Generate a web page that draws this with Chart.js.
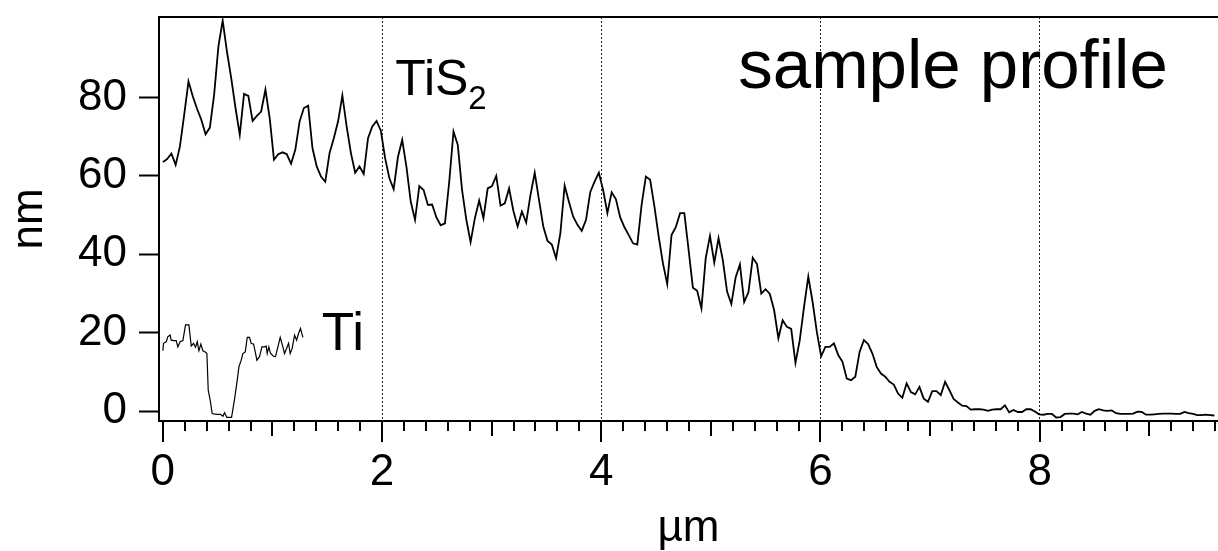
<!DOCTYPE html>
<html>
<head>
<meta charset="utf-8">
<script src="https://cdn.jsdelivr.net/npm/chart.js@4.4.1/dist/chart.umd.min.js"></script>
<style>
  html, body { margin: 0; padding: 0; background: #fff; }
  canvas { display: block; }
</style>
</head>
<body>
<canvas id="chart" width="1218" height="551"></canvas>
<script>
// profile sampling step along the scan, in µm
const STEP = 0.039;

// TiS2 flake height, nm (one value per sample)
const tis2Height = [
  63.5, 64.3, 65.7, 62.8, 67.5, 75.6, 84.1, 80.3, 77.1, 74.3,
  70.6, 72.3, 80.7, 93.0, 99.6, 91.7, 84.9, 77.3, 70.5, 80.9,
  80.4, 74.0, 75.3, 76.4, 82.0, 74.7, 64.1, 65.5, 66.0, 65.5,
  63.1, 66.7, 73.9, 77.3, 77.9, 67.1, 62.4, 59.8, 58.5, 65.8,
  69.6, 73.9, 80.5, 72.6, 65.8, 60.8, 62.4, 60.5, 69.6, 72.6,
  74.0, 71.5, 64.5, 59.4, 56.6, 64.8, 69.2, 62.2, 53.4, 48.8,
  57.4, 56.4, 52.6, 52.7, 49.4, 47.4, 47.9, 58.5, 71.3, 67.9,
  56.4, 48.8, 43.1, 49.2, 53.7, 49.2, 56.8, 57.4, 60.0, 52.4,
  53.0, 56.8, 51.1, 47.1, 50.9, 48.1, 55.1, 60.8, 53.9, 47.1,
  43.4, 42.5, 39.0, 45.4, 57.5, 53.4, 49.6, 47.5, 46.0, 48.8,
  55.9, 58.5, 60.8, 56.4, 50.5, 55.8, 54.0, 49.4, 46.9, 44.9,
  42.8, 42.5, 52.6, 59.8, 59.0, 52.2, 44.5, 37.7, 32.4, 44.9,
  46.9, 50.5, 50.5, 41.1, 31.5, 30.7, 26.2, 39.0, 44.7, 37.9,
  44.1, 38.5, 30.5, 27.3, 34.1, 37.4, 27.8, 30.3, 39.1, 37.5,
  30.0, 31.1, 29.9, 25.8, 18.6, 23.2, 21.5, 21.0, 12.3, 18.1,
  26.6, 34.3, 27.9, 20.2, 14.0, 16.4, 16.4, 17.3, 14.3, 12.6,
  8.3, 7.9, 8.8, 15.1, 18.1, 17.1, 14.7, 11.3, 9.6, 8.8,
  7.5, 6.8, 4.5, 3.4, 7.1, 4.9, 4.3, 6.2, 3.2, 2.4,
  5.1, 5.1, 4.1, 7.5, 5.4, 3.1, 2.2, 1.4, 1.3, 0.4,
  0.5, 0.5, 0.4, 0.1, 0.4, 0.5, 0.5, 1.5, -0.3, 0.3,
  -0.2, -0.2, 0.5, 0.5, -0.1, -0.8, -0.9, -0.7, -0.7, -1.6,
  -1.5, -0.7, -0.6, -0.6, -0.8, -0.2, -0.6, -0.9, 0.1, 0.5,
  0.2, 0.1, 0.2, -0.5, -0.7, -0.7, -0.7, -0.6, -0.1, -0.2,
  -0.9, -0.9, -0.8, -0.7, -0.6, -0.6, -0.6, -0.7, -0.7, -0.2,
  -0.5, -0.7, -1.0, -1.0, -0.9, -1.0, -1.1
];

// Ti reference strip: position (µm) and height (nm)
const tiX = [
  0.000, 0.006, 0.031, 0.046, 0.067, 0.076, 0.098, 0.122, 0.137, 0.158,
  0.183, 0.207, 0.238, 0.259, 0.280, 0.298, 0.314, 0.329, 0.347, 0.365,
  0.387, 0.402, 0.414, 0.432, 0.450, 0.487, 0.526, 0.548, 0.563, 0.584,
  0.627, 0.654, 0.675, 0.694, 0.715, 0.730, 0.752, 0.770, 0.791, 0.806,
  0.828, 0.843, 0.858, 0.882, 0.904, 0.928, 0.943, 0.952, 0.967, 0.983,
  1.010, 1.028, 1.050, 1.071, 1.095, 1.110, 1.129, 1.147, 1.162, 1.180,
  1.202, 1.220, 1.238, 1.256, 1.278
];
const tiY = [
  15.4, 17.3, 17.7, 19.0, 19.4, 18.1, 18.0, 18.0, 16.4, 17.7,
  18.0, 22.0, 22.0, 16.6, 17.3, 16.3, 17.7, 15.4, 17.1, 15.4,
  15.1, 14.7, 5.4, 2.8, -0.6, -0.8, -0.8, -1.3, -0.4, -1.6,
  -1.6, 3.0, 7.1, 11.3, 13.0, 14.7, 15.1, 18.8, 18.8, 17.3,
  17.1, 15.1, 13.0, 13.9, 16.4, 16.4, 16.6, 14.7, 16.4, 14.7,
  14.0, 13.9, 16.4, 18.8, 16.4, 14.7, 16.0, 17.3, 14.7, 16.0,
  19.4, 18.1, 19.8, 21.1, 18.8
];

const xTicks = [0, 2, 4, 6, 8];
const yTicks = [0, 20, 40, 60, 80];

const FONT = '"Liberation Sans", Arial, Helvetica, sans-serif';

// frame top, minor x ticks and the in-plot labels
const decor = {
  id: 'decor',
  afterDraw(chart) {
    const { ctx, chartArea: a, scales: { x, y } } = chart;
    ctx.save();
    ctx.strokeStyle = '#000';
    ctx.lineWidth = 2;
    ctx.beginPath();
    ctx.moveTo(a.left - 1, a.top);
    ctx.lineTo(a.right, a.top);
    ctx.stroke();
    for (let k = 0; k * 0.2 <= x.max; k++) {
      const px = Math.round(x.getPixelForValue(k * 0.2));
      const len = k % 10 === 0 ? 21 : (k % 5 === 0 ? 15 : 10);
      ctx.beginPath();
      ctx.moveTo(px, a.bottom);
      ctx.lineTo(px, a.bottom + len);
      ctx.stroke();
    }
    ctx.fillStyle = '#000';
    ctx.textBaseline = 'alphabetic';
    ctx.textAlign = 'left';
    ctx.font = '69px ' + FONT;
    ctx.fillText('sample profile', x.getPixelForValue(5.25), y.getPixelForValue(82.4));
    ctx.font = '50px ' + FONT;
    const tx = x.getPixelForValue(2.12);
    ctx.fillText('TiS', tx, y.getPixelForValue(80.6));
    const w = ctx.measureText('TiS').width;
    ctx.font = '33px ' + FONT;
    ctx.fillText('2', tx + w, y.getPixelForValue(77.0));
    ctx.font = '53px ' + FONT;
    ctx.fillText('Ti', x.getPixelForValue(1.45), y.getPixelForValue(15.6));
    ctx.restore();
  }
};

new Chart(document.getElementById('chart'), {
  type: 'line',
  data: {
    datasets: [
      {
        label: 'TiS2',
        data: tis2Height.map((v, i) => ({ x: i * STEP, y: v })),
        borderColor: '#000',
        borderWidth: 1.8,
        pointRadius: 0,
        tension: 0
      },
      {
        label: 'Ti',
        data: tiX.map((v, i) => ({ x: v, y: tiY[i] })),
        borderColor: '#000',
        borderWidth: 1.2,
        pointRadius: 0,
        tension: 0
      }
    ]
  },
  options: {
    responsive: false,
    animation: false,
    events: [],
    layout: { padding: { top: 17, right: 0, bottom: 0, left: 0 } },
    plugins: { legend: { display: false }, tooltip: { enabled: false } },
    scales: {
      x: {
        type: 'linear',
        min: -0.035,
        max: 9.627,
        afterBuildTicks: (s) => { s.ticks = xTicks.map((v) => ({ value: v })); },
        afterFit: (s) => { s.height = 130; s.paddingLeft = 0; s.paddingRight = 0; },
        ticks: { color: '#000', font: { family: FONT, size: 44 }, padding: 25, maxRotation: 0 },
        grid: {
          drawTicks: false,
          color: (c) => (c.tick && c.tick.value === 0 ? 'rgba(0,0,0,0)' : '#222'),
          lineWidth: 1
        },
        border: { display: true, color: '#000', width: 2, dash: [2, 2] },
        title: { display: true, text: 'µm', color: '#000', font: { family: FONT, size: 44, lineHeight: 1 }, padding: { top: 0, bottom: 0 } }
      },
      y: {
        type: 'linear',
        min: -2.5,
        max: 100.5,
        afterBuildTicks: (s) => { s.ticks = yTicks.map((v) => ({ value: v })); },
        afterFit: (s) => { s.width = 159; s.paddingTop = 0; s.paddingBottom = 0; },
        ticks: { color: '#000', font: { family: FONT, size: 44 }, padding: 12 },
        grid: { drawOnChartArea: false, drawTicks: true, tickLength: 20, tickWidth: 2, tickColor: '#000' },
        border: { display: true, color: '#000', width: 2 },
        title: { display: true, text: 'nm', color: '#000', font: { family: FONT, size: 44 }, padding: { top: 3, bottom: 0 } }
      }
    }
  },
  plugins: [decor]
});
</script>
</body>
</html>
